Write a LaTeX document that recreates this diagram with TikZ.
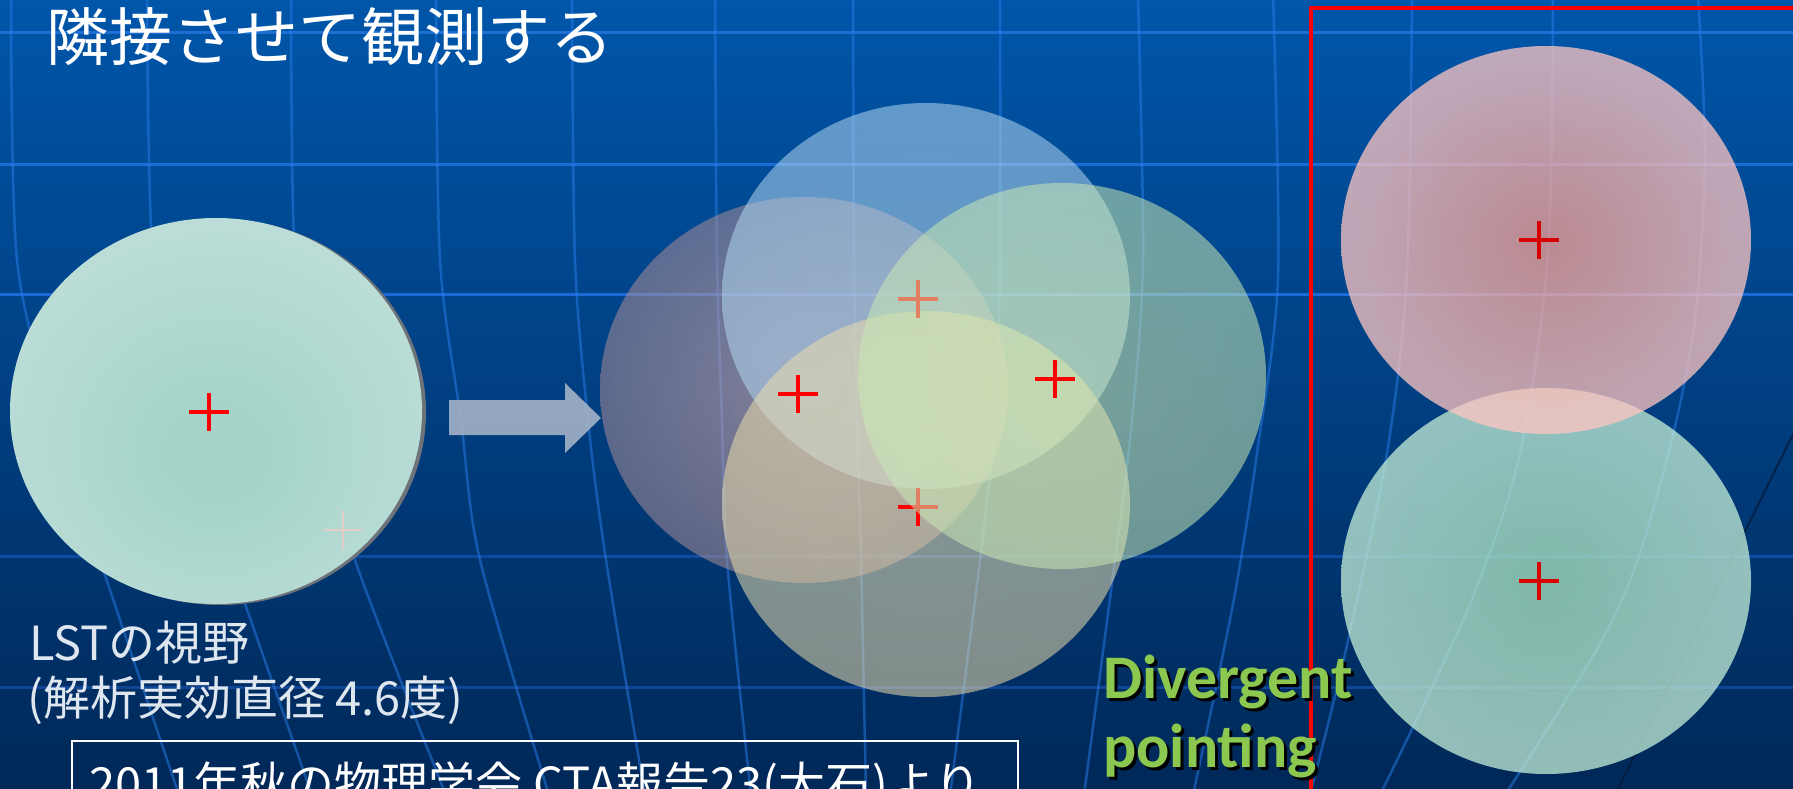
\documentclass[tikz,border=0pt]{standalone}
\usepackage{fontspec}
\newfontfamily\jpfont{Noto Sans CJK JP}
\newfontfamily\divfont{Carlito}
\definecolor{bgtop}{RGB}{0,86,170}
\definecolor{bgbot}{RGB}{0,40,88}
\definecolor{gridv}{RGB}{40,125,235}
\definecolor{hl1}{RGB}{30,110,212}
\definecolor{hl2}{RGB}{28,108,214}
\definecolor{hl3}{RGB}{26,106,216}
\definecolor{hl4}{RGB}{15,75,160}
\definecolor{hl5}{RGB}{15,70,150}
\definecolor{lstin}{RGB}{164,212,202}
\definecolor{lstmid}{RGB}{190,222,216}
\definecolor{lstout}{RGB}{208,227,228}
\definecolor{lstrim}{RGB}{110,115,122}
\definecolor{mlin}{RGB}{240,184,176}
\definecolor{mlmid}{RGB}{170,140,150}
\definecolor{mlout}{RGB}{108,104,128}
\definecolor{mtin}{RGB}{184,220,240}
\definecolor{mtout}{RGB}{170,208,240}
\definecolor{mrin}{RGB}{216,240,176}
\definecolor{mrout}{RGB}{184,224,184}
\definecolor{mbin}{RGB}{240,224,176}
\definecolor{mbout}{RGB}{228,216,168}
\definecolor{rtin}{RGB}{250,160,145}
\definecolor{rtmid}{RGB}{255,196,192}
\definecolor{rtout}{RGB}{255,214,215}
\definecolor{rbin}{RGB}{172,228,190}
\definecolor{rbmid}{RGB}{195,238,214}
\definecolor{rbout}{RGB}{215,246,232}
\definecolor{faintx}{RGB}{228,205,198}
\definecolor{divgreen}{RGB}{140,200,80}
\definecolor{arrowcol}{RGB}{160,176,198}
\definecolor{lsttext}{RGB}{222,230,240}
\definecolor{darkline}{RGB}{5,25,55}
\pgfdeclareradialshading{lstdisk}{\pgfpoint{0bp}{-6bp}}{color(0bp)=(lstin); color(6bp)=(lstin); color(30bp)=(lstmid); color(50bp)=(lstout); color(70bp)=(lstout)}
\pgfdeclareradialshading{mleft}{\pgfpoint{0bp}{0bp}}{color(0bp)=(mlin); color(25bp)=(mlmid); color(50bp)=(mlout); color(70bp)=(mlout)}
\pgfdeclareradialshading{mtop}{\pgfpoint{0bp}{0bp}}{color(0bp)=(mtin); color(50bp)=(mtout); color(70bp)=(mtout)}
\pgfdeclareradialshading{mright}{\pgfpoint{0bp}{0bp}}{color(0bp)=(mrin); color(50bp)=(mrout); color(70bp)=(mrout)}
\pgfdeclareradialshading{mbottom}{\pgfpoint{0bp}{0bp}}{color(0bp)=(mbin); color(50bp)=(mbout); color(70bp)=(mbout)}
\pgfdeclareradialshading{rtop}{\pgfpoint{0bp}{0bp}}{color(0bp)=(rtin); color(22bp)=(rtmid); color(50bp)=(rtout); color(70bp)=(rtout)}
\pgfdeclareradialshading{rbottom}{\pgfpoint{0bp}{0bp}}{color(0bp)=(rbin); color(22bp)=(rbmid); color(50bp)=(rbout); color(70bp)=(rbout)}
\tikzset{
  vline/.style={draw=gridv, draw opacity=0.5, line width=2.5bp},
  hline/.style={line width=3bp},
  crossline/.style={line width=3.5bp},
  midcirc/.style={fill opacity=0.55},
  rightcirc/.style={fill opacity=0.75},
  jptext/.style={inner sep=0pt, anchor=base west},
  divtext/.style={inner sep=0pt, anchor=base west, font=\divfont\bfseries\fontsize{62bp}{62bp}\selectfont},
}
\newcommand\xcross[3]{\draw[crossline,#3] (#1-20,#2) -- (#1+20,#2) (#1,#2-19) -- (#1,#2+19);}
\begin{document}
\begin{tikzpicture}[x=1bp,y=-1bp]
\useasboundingbox (0,0) rectangle (1793,789);
% background
\shade[top color=bgtop,bottom color=bgbot] (0,0) rectangle (1793,789);
% latitude lines
\draw[hline,hl1] (0,33) -- (1793,33);
\draw[hline,hl2] (0,164) -- (1793,164);
\draw[hline,hl3] (0,294) -- (1793,294);
\draw[hline,hl4] (0,556) -- (1793,556);
\draw[hline,hl5] (0,687) -- (1793,687);
% longitude lines
\draw[vline] plot[smooth] coordinates {(11,-5) (17,260) (55,420) (100,560) (179,795)};
\draw[vline] plot[smooth] coordinates {(147,-5) (153,260) (185,420) (230,560) (312,795)};
\draw[vline] plot[smooth] coordinates {(291,-5) (295,260) (320,420) (355,560) (446,795)};
\draw[vline] plot[smooth] coordinates {(436,-5) (440,260) (461,420) (480,560) (549,795)};
\draw[vline] plot[smooth] coordinates {(572,-5) (575,260) (588,420) (606,560) (645,795)};
\draw[vline] plot[smooth] coordinates {(715,-5) (717,260) (722,420) (727,560) (751,795)};
\draw[vline] plot[smooth] coordinates {(853,-5) (854,260) (857,420) (861,560) (866,795)};
\draw[vline] plot[smooth] coordinates {(1000,-5) (1000,260) (995,420) (980,560) (950,795)};
\draw[vline] plot[smooth] coordinates {(1138,-5) (1143,260) (1132,420) (1115,560) (1084,795)};
\draw[vline] plot[smooth] coordinates {(1273,-5) (1278,277) (1257,453) (1233,604) (1193,795)};
\draw[vline] plot[smooth] coordinates {(1412,-5) (1407,272) (1387,453) (1345,654) (1310,795)};
\draw[vline] plot[smooth] coordinates {(1553,-5) (1548,252) (1520,453) (1470,604) (1380,795)};
\draw[vline] plot[smooth] coordinates {(1698,-5) (1705,151) (1697,302) (1677,418) (1640,553) (1600,644) (1505,795)};
\draw[darkline, line width=2bp, draw opacity=0.7] (1800,420) -- (1615,795);
% LST field of view
\fill[lstrim] (220,412) ellipse [x radius=206, y radius=193];
\shade[shading=lstdisk] (216,411) ellipse [x radius=206, y radius=193];
\xcross{343}{530}{faintx, line width=2bp}
\xcross{209}{412}{red}
% arrow
\fill[arrowcol, fill opacity=0.92] (449,400) -- (565,400) -- (565,383) -- (601,418) -- (565,453) -- (565,435) -- (449,435) -- cycle;
% adjacent pointings
\shade[shading=mleft, midcirc] (804,390) ellipse [x radius=204, y radius=193];
\shade[shading=mtop, midcirc] (926,296) ellipse [x radius=204, y radius=193];
\shade[shading=mbottom, midcirc] (926,504) ellipse [x radius=204, y radius=193];
\xcross{918}{299}{red}
\xcross{918}{507}{red}
\shade[shading=mright, midcirc] (1062,376) ellipse [x radius=204, y radius=193];
\xcross{798}{394}{red}
\xcross{1055}{379}{red}
% divergent pointing box
\draw[red, line width=4.5bp] (1311,800) -- (1311,8) -- (1800,8);
\shade[shading=rbottom, rightcirc] (1546,581) ellipse [x radius=205, y radius=193];
\shade[shading=rtop, rightcirc] (1546,240) ellipse [x radius=205, y radius=194];
\xcross{1539}{240}{red!85!black}
\xcross{1539}{581}{red!85!black}
% texts
\node[jptext, text=white, font=\jpfont\fontsize{63bp}{63bp}\selectfont] (title) at (46,61) {隣接させて観測する};
\node[jptext, text=lsttext, font=\jpfont\fontsize{47bp}{47bp}\selectfont] (lsta) at (29,660) {LSTの視野};
\node[jptext, text=lsttext, font=\jpfont\fontsize{47bp}{47bp}\selectfont] (lstb) at (27,715) {(解析実効直径 4.6度)};
\draw[white, line width=2.5bp] (72,810) -- (72,741) -- (1018,741) -- (1018,810);
\node[jptext, text=white, font=\jpfont\fontsize{47bp}{47bp}\selectfont] (src) at (89,801) {2011年秋の物理学会 CTA報告23(大石)より};
\node[divtext, text=black] (divsh) at (1106,701) {Divergent};
\node[divtext, text=black] (pointsh) at (1106,770) {pointing};
\node[divtext, text=divgreen] (div) at (1103,698) {Divergent};
\node[divtext, text=divgreen] (point) at (1103,767) {pointing};
\end{tikzpicture}
\end{document}
